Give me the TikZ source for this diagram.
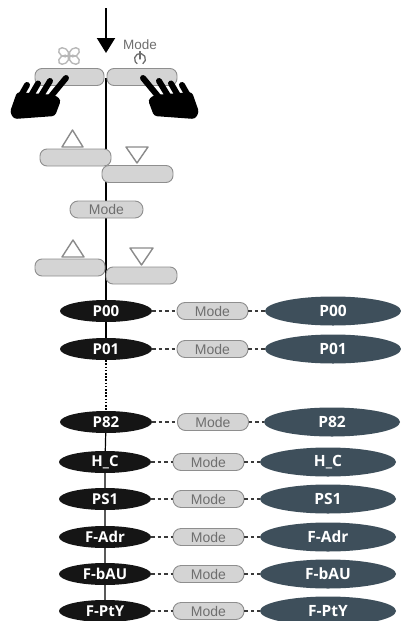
\documentclass[tikz,border=0pt]{standalone}
\usepackage{fontspec}
\setmainfont{Liberation Sans}
\newfontfamily\codefont{Open Sans}
\usetikzlibrary{shapes.geometric,arrows.meta,backgrounds}

\definecolor{keyfill}{HTML}{D4D4D4}
\definecolor{keyline}{HTML}{8E8E8E}
\definecolor{keytext}{HTML}{6E6E6E}
\definecolor{iconline}{HTML}{8A8A8A}
\definecolor{fanline}{HTML}{B8B8B8}
\definecolor{codeblack}{HTML}{151515}
\definecolor{codeslate}{HTML}{3E4F5B}
\definecolor{linkcol}{HTML}{3A3A3A}

\tikzset{
  key/.style={draw=keyline, fill=keyfill, line width=0.9pt, rounded corners=7pt,
    minimum height=17pt, inner sep=0pt},
  modekey/.style={key, text=keytext, rounded corners=8pt,
    font=\fontsize{14}{14}\selectfont},
  code/.style={ellipse, fill=codeblack, text=white, minimum width=92pt,
    minimum height=22pt, inner sep=0pt,
    font=\codefont\bfseries\fontsize{15}{15}\selectfont},
  value/.style={ellipse, fill=codeslate, text=white, minimum width=136pt,
    minimum height=29pt, inner sep=0pt,
    font=\codefont\bfseries\fontsize{15.5}{16}\selectfont},
  link/.style={draw=linkcol, line width=1.2pt, dash pattern=on 3.5pt off 3pt},
  spine/.style={draw=black, line width=1.2pt},
  triicon/.style={draw=iconline, line width=1.4pt, line join=round},
  finger/.style={line width=6pt, line cap=round},
}

% a hand pressing a key, index finger pointing up and to the right
\newcommand{\drawhand}{%
  \fill[black, rounded corners=3pt] (10,112) -- (17,92) -- (55,95) -- (61,100)
     -- (55,116) -- (14,119) -- cycle;
  \draw[finger] (19,99) -- (27,85);
  \draw[finger] (29,99) -- (38,83.5);
  \draw[finger] (39,99) -- (50,81);
  \draw[finger] (47,101) -- (66,78);
}

\begin{document}
\begin{tikzpicture}[x=1pt,y=-1pt]
\useasboundingbox (0,0) rectangle (401,621);

% incoming arrow
\coordinate (arrowtop) at (106,8);
\coordinate (arrowtip) at (106,53);
\draw[line width=2pt, -{Triangle[width=18pt,length=15pt]}] (arrowtop) -- (arrowtip);

% key sequence
\node[key, minimum width=69pt] (fankey)  at (69.5,77) {};
\node[key, minimum width=70pt] (modetop) at (142,77) {};
\node[key, minimum width=71pt] (up1)     at (75.5,157.5) {};
\node[key, minimum width=71pt] (down1)   at (137.5,174) {};
\node[modekey, minimum width=73pt] (modemid) at (106.5,209.5) {Mode};
\node[key, minimum width=70pt] (up2)     at (70,267.5) {};
\node[key, minimum width=71pt] (down2)   at (141.5,275.5) {};

% key symbols
\node[text=keytext, font=\fontsize{13.5}{14}\selectfont] (modelabel) at (140,45) {Mode};
\draw[keytext, line width=1.3pt] (140,59) ++(60:5.5) arc[start angle=60, end angle=-240, radius=5.5];
\draw[keytext, line width=1.3pt, line cap=round] (140,51.5) -- (140,59);
\foreach \a in {35,145,215,325}
  \draw[fanline, line width=1.4pt, rotate around={\a:(69,56)}] (75.5,56) ellipse[x radius=5.5, y radius=4];
\draw[triicon] (72.5,130) -- (83,147) -- (62,147) -- cycle;
\draw[triicon] (126,147) -- (148,147) -- (137,163) -- cycle;
\draw[triicon] (73,240) -- (84,257) -- (62,257) -- cycle;
\draw[triicon] (130,248) -- (153,248) -- (141.5,265) -- cycle;

% hands
\drawhand
\begin{scope}[xshift=209pt, xscale=-1]
  \drawhand
\end{scope}

% parameter list
\foreach \n/\t/\y/\cx/\mx/\vx in {
  r0/P00/311/106/212.5/333,
  r1/P01/349/106/212.5/333,
  r2/P82/422/106/213/332,
  r3/{H\_C}/462/105/208.5/328,
  r4/PS1/499/105/208.5/328,
  r5/F-Adr/537/105/208.5/328,
  r6/F-bAU/574/105/208.5/328,
  r7/F-PtY/611/105/208.5/328} {
  \node[code] (\n) at (\cx,\y) {\t};
  \node[modekey, minimum width=71pt] (\n m) at (\mx,\y) {Mode};
  \node[value] (\n v) at (\vx,\y) {\t};
  \draw[link] (\n) -- (\n m);
  \draw[link] (\n m) -- (\n v);
}

\coordinate (spinetop) at (106,78);
\begin{scope}[on background layer]
  \draw[spine] (spinetop) -- (106,311) -- (r1);
  \draw[spine, line width=1.6pt, dash pattern=on 1.6pt off 1.6pt] (r1) -- (106,422);
  \draw[spine] (106,422) -- (r3) -- (r4) -- (r5) -- (r6) -- (r7);
\end{scope}
\end{tikzpicture}
\end{document}
